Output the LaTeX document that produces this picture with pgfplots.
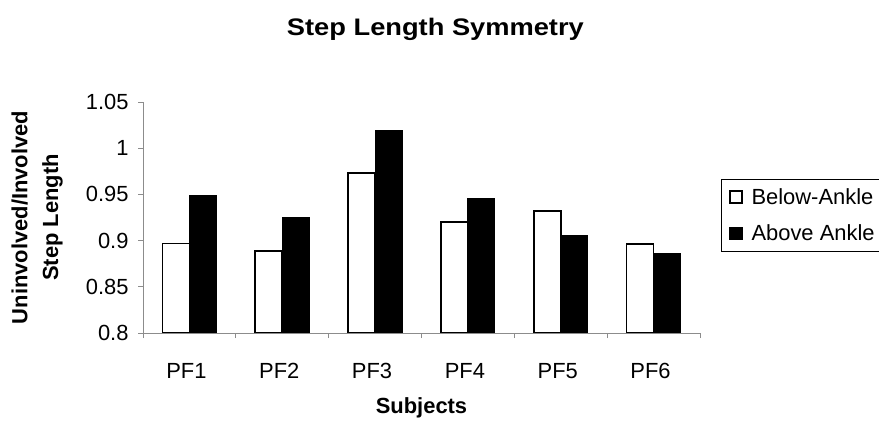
\documentclass[border=0pt]{standalone}
\usepackage{pgfplots}
\pgfplotsset{compat=1.18}
\usepackage{fontspec}
\setmainfont{Liberation Sans}
\begin{document}
\begin{tikzpicture}
\begin{axis}[
  at={(143bp,88bp)}, anchor=south west,
  scale only axis, width=557bp, height=231bp,
  ybar=0pt, bar width=27bp,
  xmin=-0.5, xmax=5.5, ymin=0.8, ymax=1.05,
  enlargelimits=false,
  axis x line*=bottom, axis y line*=left,
  axis line style={black!45, line width=0.9bp},
  tick style={black!45, line width=0.7bp},
  tick align=outside,
  major tick length=5bp,
  xtick={-0.5,0.5,1.5,2.5,3.5,4.5,5.5},
  xticklabels={},
  extra x ticks={0,1,2,3,4,5},
  extra x tick labels={PF1,PF2,PF3,PF4,PF5,PF6},
  extra x tick style={major tick length=0pt},
  ytick={0.8,0.85,0.9,0.95,1,1.05},
  yticklabels={0.8,0.85,0.9,0.95,1,1.05},
  tick label style={font=\fontsize{22}{26}\selectfont, black},
  xticklabel style={anchor=base, yshift=-45bp, xshift=-3bp},
  yticklabel style={anchor=east, xshift=-6bp},
  title={Step Length Symmetry},
  title style={font=\bfseries\fontsize{24}{28}\selectfont, xscale=1.14, at={(axis description cs:0.525,1)}, anchor=center, yshift=67bp},
  xlabel={Subjects},
  xlabel style={font=\bfseries\fontsize{22}{26}\selectfont, at={(axis description cs:0.5,0)}, anchor=center, yshift=-75bp},
  ylabel={Uninvolved/Involved\\Step Length},
  ylabel style={font=\bfseries\fontsize{22}{31}\selectfont, align=center, at={(axis description cs:-0.19,0.5)}, anchor=center},
  legend style={at={(axis description cs:1.0377,0.667)}, anchor=north west, draw=black, line width=0.7bp,
    font=\fontsize{22}{26}\selectfont, row sep=15bp, column sep=7bp, inner xsep=8bp, inner ysep=7bp, cells={anchor=west}},
  legend image code/.code={\draw[#1, line width=1.2bp] (0bp,-6bp) rectangle (12bp,6bp);},
]
\addplot[draw=black, fill=white, line width=1.6bp] coordinates {(0,0.897) (1,0.889) (2,0.973) (3,0.920) (4,0.932) (5,0.896)};
\addplot[draw=black, fill=black, line width=1bp] coordinates {(0,0.949) (1,0.925) (2,1.019) (3,0.946) (4,0.905) (5,0.886)};
\legend{Below-Ankle, Above Ankle}
\end{axis}
\pgfresetboundingbox
\path[use as bounding box] (0,0) rectangle (879bp,421bp);
\end{tikzpicture}
\end{document}
